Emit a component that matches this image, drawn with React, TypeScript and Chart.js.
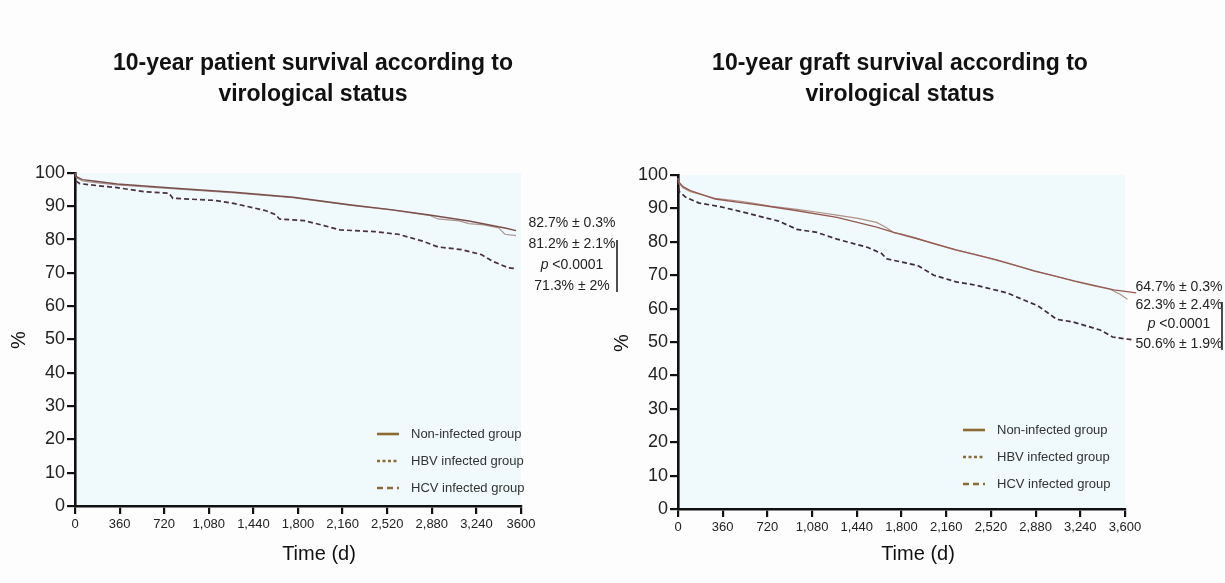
import React, { useEffect, useRef } from "react";
import { Chart, registerables } from "chart.js";

Chart.register(...registerables);

const FONT = '"Liberation Sans", Arial, Helvetica, sans-serif';

// ---------- shared axis data ----------
const xTickValues = [0, 360, 720, 1080, 1440, 1800, 2160, 2520, 2880, 3240, 3600];
const xTickLabelsPatient = ["0", "360", "720", "1,080", "1,440", "1,800", "2,160", "2,520", "2,880", "3,240", "3600"];
const xTickLabelsGraft = ["0", "360", "720", "1,080", "1,440", "1,800", "2,160", "2,520", "2,880", "3,240", "3,600"];
const groupLabels = ["Non-infected group", "HBV infected group", "HCV infected group"];

// ---------- patient survival (left) ----------
const patientNonT = [0, 15, 60, 150, 340, 810, 1285, 1760, 2230, 2550, 2860, 3180, 3480, 3560];
const patientNonS = [100, 98.8, 98, 97.6, 96.7, 95.4, 94.2, 92.7, 90.4, 89, 87.4, 85.6, 83.4, 82.7];
const patientHbvT = [0, 15, 60, 150, 340, 810, 1285, 1760, 2230, 2550, 2860, 2930, 3100, 3180, 3300, 3420, 3470, 3560];
const patientHbvS = [100, 98.5, 97.6, 97.2, 96.4, 95.2, 94.0, 92.6, 90.3, 88.9, 87.3, 86.2, 85.6, 84.8, 84.4, 83.5, 81.6, 81.2];
const patientHcvT = [0, 10, 40, 180, 340, 560, 760, 790, 1120, 1290, 1530, 1620, 1650, 1850, 2010, 2140, 2420, 2610, 2800, 2930, 3120, 3280, 3370, 3500, 3560];
const patientHcvS = [100, 97.5, 96.8, 96.2, 95.6, 94.4, 93.9, 92.4, 91.8, 90.8, 88.8, 87.5, 86.2, 85.7, 84.2, 82.9, 82.4, 81.6, 79.6, 77.8, 77.0, 75.5, 73.5, 71.5, 71.3];

// ---------- graft survival (right) ----------
const graftNonT = [0, 10, 40, 100, 300, 490, 700, 960, 1280, 1600, 1730, 1920, 2240, 2560, 2870, 3190, 3510, 3690];
const graftNonS = [99, 97.8, 96.5, 95.3, 92.8, 91.8, 90.8, 89.3, 87.3, 84.4, 82.9, 81, 77.6, 74.6, 71.3, 68.3, 65.6, 64.7];
const graftHbvT = [0, 10, 40, 100, 300, 490, 600, 740, 960, 1100, 1280, 1450, 1600, 1680, 1740, 1800, 1920, 2050, 2240, 2400, 2560, 2700, 2870, 3050, 3190, 3350, 3480, 3560, 3620, 3690];
const graftHbvS = [99, 97.5, 96.2, 95, 93, 92.2, 91.6, 90.7, 89.7, 89.0, 88.0, 87.0, 85.8, 84.2, 82.7, 82.3, 81.1, 79.5, 77.5, 76.2, 74.7, 73.2, 71.2, 69.6, 68.2, 66.8, 65.8, 64.3, 62.8, 62.3];
const graftHcvT = [0, 10, 60, 170, 330, 490, 650, 810, 960, 1120, 1280, 1530, 1640, 1680, 1930, 2060, 2240, 2400, 2650, 2900, 3050, 3180, 3400, 3500, 3670];
const graftHcvS = [98.5, 95, 93.4, 91.6, 90.6, 89.2, 87.7, 86.2, 83.7, 82.8, 80.8, 78.3, 76.5, 74.9, 72.9, 70.0, 68.0, 67.0, 64.7, 60.8, 56.8, 56.0, 53.6, 51.5, 50.6];

const patientTitle = ["10-year patient survival according to", "virological status"];
const graftTitle = ["10-year graft survival according to", "virological status"];
const patientNotes = ["82.7% \u00b1 0.3%", "81.2% \u00b1 2.1%", "p <0.0001", "71.3% \u00b1 2%"];
const graftNotes = ["64.7% \u00b1 0.3%", "62.3% \u00b1 2.4%", "p <0.0001", "50.6% \u00b1 1.9%"];

const W = 1225;
const H = 583;

type Panel = {
  id: string;
  area: { left: number; right: number; top: number; bottom: number };
  tickLabels: string[];
  title: string[];
  titleX: number;
  titleY: number[];
  xTitleX: number;
  xTitleY: number;
  yTitleX: number;
  yTitleY: number;
  notes: string[];
  notesX: number;
  notesY: number[];
  barX: number;
  barY: [number, number];
  legendX: number;
  legendY: number[];
  series: { t: number[]; s: number[]; color: string; dash: number[]; width: number }[];
};

const legendColor = "#8c6c33";
const legendDash = [[], [3, 2.5], [6, 4]];

const panels: Panel[] = [
  {
    id: "patient",
    area: { left: 75, right: 521, top: 173, bottom: 506 },
    tickLabels: xTickLabelsPatient,
    title: patientTitle,
    titleX: 313,
    titleY: [64, 95],
    xTitleX: 319,
    xTitleY: 554,
    yTitleX: 19,
    yTitleY: 340,
    notes: patientNotes,
    notesX: 572,
    notesY: [223, 244, 265, 286],
    barX: 617,
    barY: [240, 292],
    legendX: 377,
    legendY: [434, 461, 488],
    series: [
      { t: patientNonT, s: patientNonS, color: "#7a4f4b", dash: [], width: 1.4 },
      { t: patientHbvT, s: patientHbvS, color: "#ab9593", dash: [], width: 1.2 },
      { t: patientHcvT, s: patientHcvS, color: "#4b3040", dash: [5, 3], width: 1.7 },
    ],
  },
  {
    id: "graft",
    area: { left: 678, right: 1125, top: 175, bottom: 509 },
    tickLabels: xTickLabelsGraft,
    title: graftTitle,
    titleX: 900,
    titleY: [64, 95],
    xTitleX: 918,
    xTitleY: 554,
    yTitleX: 622,
    yTitleY: 343,
    notes: graftNotes,
    notesX: 1179,
    notesY: [287, 305, 324, 344],
    barX: 1222,
    barY: [302, 350],
    legendX: 963,
    legendY: [430, 457, 484],
    series: [
      { t: graftNonT, s: graftNonS, color: "#955a52", dash: [], width: 1.4 },
      { t: graftHbvT, s: graftHbvS, color: "#b09285", dash: [], width: 1.2 },
      { t: graftHcvT, s: graftHcvS, color: "#3f2c3a", dash: [5, 3], width: 1.7 },
    ],
  },
];

function overlay(p: Panel) {
  return {
    id: "overlay_" + p.id,
    beforeDraw(chart: any) {
      const { ctx, chartArea: a } = chart;
      ctx.save();
      ctx.fillStyle = "#f0f9fb";
      ctx.fillRect(a.left, a.top, a.right - a.left, a.bottom - a.top);
      ctx.restore();
    },
    afterDraw(chart: any) {
      const ctx: CanvasRenderingContext2D = chart.ctx;
      ctx.save();
      ctx.fillStyle = "#111";
      ctx.textAlign = "center";
      ctx.textBaseline = "middle";
      ctx.font = `bold 23px ${FONT}`;
      p.title.forEach((line, i) => ctx.fillText(line, p.titleX, p.titleY[i]));
      ctx.font = `20px ${FONT}`;
      ctx.fillText("Time (d)", p.xTitleX, p.xTitleY);
      ctx.save();
      ctx.translate(p.yTitleX, p.yTitleY);
      ctx.rotate(-Math.PI / 2);
      ctx.fillText("%", 0, 0);
      ctx.restore();

      // survival annotations
      ctx.fillStyle = "#222";
      p.notes.forEach((txt, i) => {
        const y = p.notesY[i];
        if (txt.startsWith("p ")) {
          const rest = txt.slice(1);
          ctx.font = `italic 14px ${FONT}`;
          const w1 = ctx.measureText("p").width;
          ctx.font = `14px ${FONT}`;
          const w2 = ctx.measureText(rest).width;
          const x0 = p.notesX - (w1 + w2) / 2;
          ctx.textAlign = "left";
          ctx.font = `italic 14px ${FONT}`;
          ctx.fillText("p", x0, y);
          ctx.font = `14px ${FONT}`;
          ctx.fillText(rest, x0 + w1, y);
          ctx.textAlign = "center";
        } else {
          ctx.font = `14px ${FONT}`;
          ctx.fillText(txt, p.notesX, y);
        }
      });
      ctx.strokeStyle = "#222";
      ctx.lineWidth = 1.6;
      ctx.beginPath();
      ctx.moveTo(p.barX, p.barY[0]);
      ctx.lineTo(p.barX, p.barY[1]);
      ctx.stroke();

      // legend
      ctx.textAlign = "left";
      ctx.font = `13px ${FONT}`;
      chart.data.datasets.forEach((ds: any, i: number) => {
        const y = p.legendY[i];
        ctx.strokeStyle = legendColor;
        ctx.lineWidth = 2.6;
        ctx.setLineDash(legendDash[i]);
        ctx.beginPath();
        ctx.moveTo(p.legendX, y);
        ctx.lineTo(p.legendX + 22, y);
        ctx.stroke();
        ctx.setLineDash([]);
        ctx.fillStyle = "#333";
        ctx.fillText(ds.label, p.legendX + 34, y);
      });
      ctx.restore();
    },
  };
}

function makeConfig(p: Panel): any {
  const a = p.area;
  return {
    type: "line",
    data: {
      datasets: p.series.map((s, i) => ({
        label: groupLabels[i],
        data: s.t.map((t, j) => ({ x: t, y: s.s[j] })),
        borderColor: s.color,
        borderWidth: s.width,
        borderDash: s.dash,
        pointRadius: 0,
        fill: false,
        tension: 0,
        clip: false,
      })),
    },
    options: {
      animation: false,
      responsive: false,
      events: [],
      layout: { padding: { left: a.left - 75, top: a.top, right: W - a.right, bottom: 0 } },
      plugins: { legend: { display: false }, title: { display: false }, tooltip: { enabled: false } },
      scales: {
        x: {
          type: "linear",
          min: 0,
          max: 3600,
          afterBuildTicks: (scale: any) => {
            scale.ticks = xTickValues.map((v) => ({ value: v }));
          },
          afterFit: (scale: any) => {
            scale.height = H - a.bottom;
          },
          ticks: {
            autoSkip: false,
            maxRotation: 0,
            color: "#222",
            padding: 3,
            font: { family: FONT, size: 13 },
            callback: (_v: any, i: number) => p.tickLabels[i],
          },
          grid: { display: true, drawOnChartArea: false, drawTicks: true, tickLength: 8, color: "#111", lineWidth: 2.2 },
          border: { display: true, color: "#111", width: 2.6 },
        },
        y: {
          type: "linear",
          min: 0,
          max: 100,
          afterFit: (scale: any) => {
            scale.width = 75;
          },
          ticks: {
            stepSize: 10,
            color: "#222",
            padding: 2,
            font: { family: FONT, size: 18 },
          },
          grid: { display: true, drawOnChartArea: false, drawTicks: true, tickLength: 8, color: "#111", lineWidth: 2.2 },
          border: { display: true, color: "#111", width: 2.6 },
        },
      },
    },
    plugins: [overlay(p)],
  };
}

export default function App() {
  const leftRef = useRef<HTMLCanvasElement>(null);
  const rightRef = useRef<HTMLCanvasElement>(null);

  useEffect(() => {
    const charts: Chart[] = [];
    [leftRef.current, rightRef.current].forEach((c, i) => {
      if (c) charts.push(new Chart(c, makeConfig(panels[i])));
    });
    return () => charts.forEach((ch) => ch.destroy());
  }, []);

  const canvasStyle: React.CSSProperties = { position: "absolute", left: 0, top: 0, width: W, height: H };
  return (
    <div style={{ position: "absolute", left: 0, top: 0, width: W, height: H, background: "#fdfdfd", overflow: "hidden" }}>
      <canvas ref={leftRef} width={W} height={H} style={canvasStyle} />
      <canvas ref={rightRef} width={W} height={H} style={canvasStyle} />
    </div>
  );
}
